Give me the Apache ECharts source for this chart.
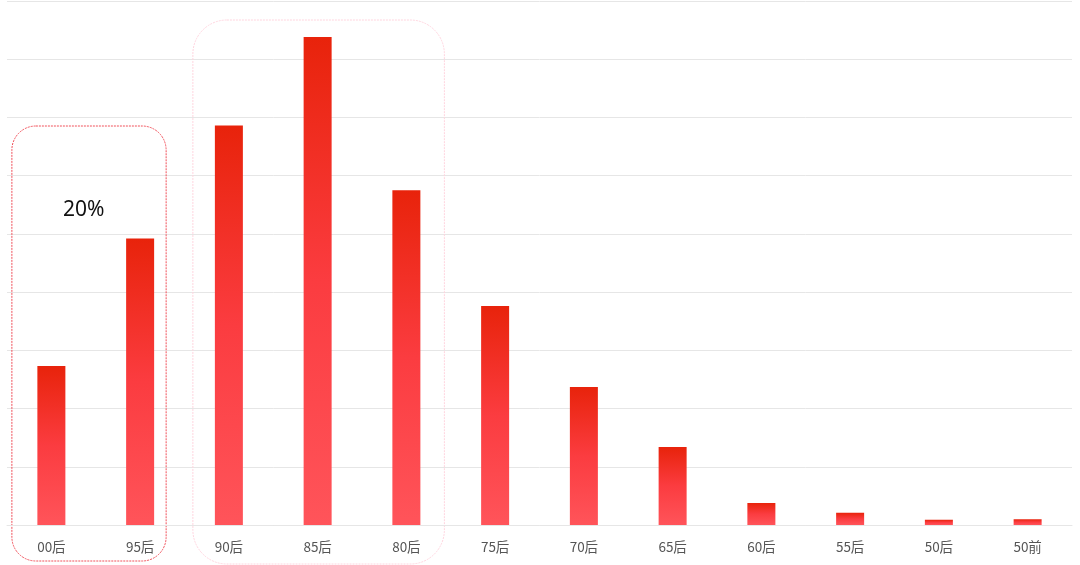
<!DOCTYPE html>
<html><head><meta charset="utf-8">
<script src="https://cdn.jsdelivr.net/npm/echarts@6/dist/echarts.min.js"></script>
<style>html,body{margin:0;padding:0;background:#fff}#c{width:1080px;height:565px}</style>
</head><body><div id="c"></div>
<script>
const categories = ['00后','95后','90后','85后','80后','75后','70后','65后','60后','55后','50后','50前'];
const values = [2.73, 4.92, 6.86, 8.38, 5.75, 3.76, 2.37, 1.34, 0.38, 0.21, 0.09, 0.10];
const annotationText = '20%';

const chart = echarts.init(document.getElementById('c'));
const option = {
  animation: false,
  grid: {left: 7, right: 8, top: 1, bottom: 40, containLabel: false},
  xAxis: {
    type: 'category', data: categories,
    axisLine: {lineStyle: {color: '#e6e6e6'}},
    axisTick: {show: false},
    axisLabel: {color: '#555', fontSize: 13.5, margin: 15, fontFamily: 'Noto Sans CJK SC'}
  },
  yAxis: {
    type: 'value', min: 0, max: 9, interval: 1,
    axisLabel: {show: false}, axisLine: {show: false}, axisTick: {show: false},
    splitLine: {lineStyle: {color: '#e6e6e6'}}
  },
  series: [{
    type: 'bar', data: values, barWidth: 28,
    itemStyle: {
      color: new echarts.graphic.LinearGradient(0, 0, 0, 1, [
        {offset: 0, color: '#e8230b'},
        {offset: 0.5, color: '#fb3c40'},
        {offset: 1, color: '#ff545a'}
      ])
    }
  }]
};
chart.setOption(option);

function px(i, v){ return chart.convertToPixel({xAxisIndex:0, yAxisIndex:0}, [i, v]); }
const c0 = px(0, 0), c1 = px(1, 0), c2 = px(2, 0), c4 = px(4, 0);
const base = c0[1];
chart.setOption({
  graphic: [
    {type: 'rect', shape: {x: c0[0]-39.5, y: base-399, width: (c1[0]+26)-(c0[0]-39.5), height: 435, r: 24},
     style: {fill: 'none', stroke: '#f0505a', lineWidth: 1, lineDash: [2, 1]}},
    {type: 'rect', shape: {x: c2[0]-36, y: base-505, width: (c4[0]+38)-(c2[0]-36), height: 544, r: 34},
     style: {fill: 'none', stroke: '#ffd4de', lineWidth: 1, lineDash: [2, 1]}},
    {type: 'text', x: (c0[0]+c1[0])/2 - 12, y: base-315, style: {text: annotationText, fill: '#111', fontSize: 21, fontFamily: 'Noto Sans', textAlign: 'center', textVerticalAlign: 'middle'}}
  ]
});
</script></body></html>
